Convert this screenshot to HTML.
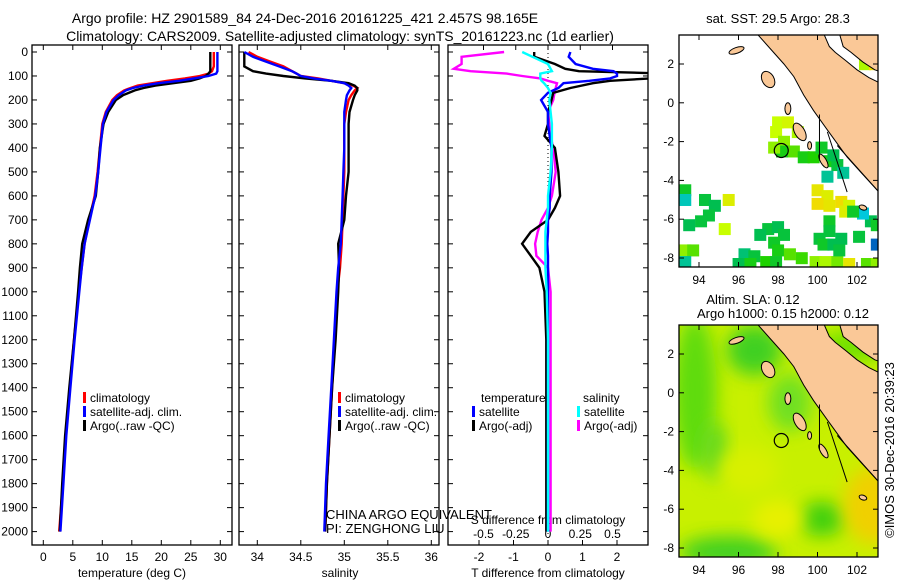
<!DOCTYPE html>
<html><head><meta charset="utf-8"><style>
body{margin:0;background:#fff;}
svg{display:block;font-family:"Liberation Sans",sans-serif;}
</style></head><body>
<svg id="c" width="900" height="580" viewBox="0 0 900 580">
<defs>
<filter id="bl" x="-50%" y="-50%" width="200%" height="200%"><feGaussianBlur stdDeviation="9"/></filter>
<clipPath id="cpT"><rect x="679" y="35" width="199" height="232"/></clipPath>
<clipPath id="cpB"><rect x="679" y="325" width="199" height="232"/></clipPath>
<clipPath id="cp3"><rect x="448" y="45" width="200" height="500"/></clipPath>
</defs>
<text x="305" y="23" font-size="14" text-anchor="middle">Argo profile: HZ 2901589_84 24-Dec-2016 20161225_421 2.457S 98.165E</text>
<text x="340" y="41" font-size="14" text-anchor="middle">Climatology: CARS2009. Satellite-adjusted climatology: synTS_20161223.nc (1d earlier)</text>
<g id="g"></g>
<text transform="translate(894,450) rotate(-90)" font-size="13" text-anchor="middle">©IMOS 30-Dec-2016 20:39:23</text>
</svg>
<script>
const depth=[0,20,40,60,80,90,100,110,120,130,140,150,160,180,200,250,300,400,500,600,700,800,900,1000,1200,1400,1600,1800,2000];
const tClim=[28.9,28.9,28.9,28.9,28.6,28.0,26.5,24,21,18.5,16,14.8,13.7,12.5,11.7,10.6,10.0,9.6,9.2,8.7,7.8,7.0,6.5,6.0,5.2,4.5,3.8,3.3,2.7];
const tSat=[29.5,29.5,29.5,29.5,29.5,29.3,28,25.5,23,19.5,17,15.2,14,12.8,11.9,10.7,10.1,9.7,9.3,8.8,7.9,7.0,6.5,6.1,5.3,4.6,3.9,3.4,2.9];
const tArgo=[28.3,28.3,28.3,28.3,28.3,28.0,27.5,26.5,25,22,19,17,15.5,13.5,12.3,11.0,10.2,9.6,9.3,8.9,7.6,6.6,6.2,5.9,5.2,4.4,3.7,3.2,2.8];
const sClim=[33.9,34.0,34.15,34.3,34.4,34.45,34.5,34.7,34.85,35.0,35.1,35.15,35.12,35.08,35.05,35.02,35.0,35.0,35.0,34.99,34.98,34.97,34.95,34.92,34.89,34.86,34.83,34.8,34.78];
const sSat=[33.85,33.95,34.1,34.25,34.4,34.45,34.5,34.65,34.85,35.0,35.05,35.08,35.06,35.03,35.02,35.0,35.0,35.0,34.99,34.98,34.97,34.96,34.93,34.91,34.88,34.85,34.82,34.79,34.77];
const sArgo=[33.85,33.85,33.85,33.85,33.95,34.1,34.3,34.55,34.85,35.05,35.12,35.15,35.15,35.12,35.1,35.06,35.05,35.05,35.05,35.02,35.0,34.93,34.94,34.93,34.9,34.86,34.83,34.8,34.78];
const dDepth=[0,20,50,70,80,90,100,110,120,130,150,170,200,250,300,350,400,500,600,650,700,750,800,850,900,1000,1200,1500,2000];
const dTArgo=[-0.4,-0.4,0.2,0.5,0.9,3.5,4,3,1.8,1.3,0.65,0.15,0.1,0,0,-0.1,0.2,0.3,0.35,0.2,0,-0.5,-0.75,-0.5,-0.25,-0.1,-0.05,-0.05,-0.05];
const dTSat=[0.65,0.6,0.8,1.3,1.9,2.0,2.0,1.8,1.2,0.45,0.3,0.0,-0.2,0,0,0.05,0.1,0.1,0.05,0.05,0,0,-0.02,0,0,0,0,0,0];
const dSArgo=[-0.34,-0.67,-0.67,-0.73,-0.6,-0.32,-0.2,-0.06,0.0,0.07,0.06,0.05,0.04,0.0,0.01,0.02,0.04,0.06,0.03,0,-0.05,-0.08,-0.1,-0.09,0,0.02,0.02,0.02,0.02];
const dSSat=[-0.2,-0.12,0,0.02,0.03,-0.06,-0.06,-0.06,-0.05,-0.03,0,0.02,0.01,0.02,0.03,0.03,0.03,0.02,0.0,0,-0.01,-0.02,-0.02,-0.02,-0.02,-0.01,0,0,0];
const depthTicks=[0,100,200,300,400,500,600,700,800,900,1000,1100,1200,1300,1400,1500,1600,1700,1800,1900,2000];
const tTicks=[0,5,10,15,20,25,30];
const sTicks=[34,34.5,35,35.5,36];
const dtTicks=[-2,-1,0,1,2];
const dsTicks=[-0.5,-0.25,0,0.25,0.5];
const dsTickLabels=["-0.5","-0.25","0","0.25","0.5"];
const latTicks=[2,0,-2,-4,-6,-8];
const lonTicks=[94,96,98,100,102];
const sstCells=[[98,-1],[98.5,-1],[99,-1.5],[97.9,-1.5],[98.3,-2],[98.8,-2.5],[98.2,-2.5],[97.8,-2.3],[99.3,-2.8],[99.8,-2.8],[100.2,-2.3],[100.6,-3],[101,-3.2],[100.8,-2.7],[101.3,-3.6],[100.5,-3.8],[93.3,-4.5],[93.3,-5],[94.3,-5],[94.8,-5.3],[94.5,-5.8],[94.1,-6.1],[93.5,-6.3],[95.5,-5],[95.3,-6.5],[97.5,-6.5],[98,-6.4],[98.3,-6.8],[97.1,-6.8],[97.8,-7.2],[98,-7.6],[96.3,-7.8],[96.8,-7.9],[98.6,-7.8],[99.2,-8],[99.9,-8.2],[100.4,-8.2],[101,-8.2],[96,-8.3],[96.6,-8.3],[97.4,-8.2],[97.9,-8.2],[93.3,-7.6],[93.7,-7.6],[93.3,-8.2],[100,-4.5],[100.5,-4.8],[100,-5.2],[100.6,-5.3],[101.2,-5.1],[101.6,-5.3],[101.4,-5.6],[100.6,-6.1],[100.6,-6.6],[100.1,-7],[100.3,-7.3],[100.8,-7.3],[101.2,-7],[101.1,-7.6],[102.1,-6.9],[102.7,-6.1],[103,-6.3],[102.3,-5.7],[101.8,-5.6],[103,-7.3],[102.5,-8.3],[103,-8.3],[101.6,-8.3],[101.7,-2],[102.4,2],[102.9,2]];
const sstVals=[0.8,0.85,0.75,0.8,0.7,0.6,0.45,0.7,0.45,0.5,0.4,0.45,0.35,0.3,0.2,0.2,0.4,0.15,0.35,0.3,0.35,0.35,0.3,0.9,0.8,0.35,0.3,0.35,0.3,0.4,0.45,0.25,0.35,0.6,0.55,0.7,0.75,0.65,0.3,0.45,0.5,0.4,0.7,0.6,0.2,0.95,0.9,1.0,0.95,1.0,0.85,0.9,0.4,0.35,0.35,0.4,0.3,0.3,0.35,0.35,0.3,0.4,0.1,0.4,0.05,0.6,0.7,0.95,0.5,0.75,1.0];
const g=document.getElementById('g');
const NS='http://www.w3.org/2000/svg';
function el(tag,a,parent){const e=document.createElementNS(NS,tag);for(const k in a)e.setAttribute(k,a[k]);(parent||g).appendChild(e);return e;}
function txt(x,y,s,a,parent){const e=el('text',Object.assign({x:x,y:y,'font-size':12},a||{}),parent);e.textContent=s;return e;}
const yD=d=>52+d*0.2398;
const xT=v=>43.3+v*5.9;
const xS=v=>257.3+(v-34)*87;
const xDT=v=>548+v*34.5;
const xDS=v=>548+v*129;
function panel(x0,name){
 const r=el('rect',{x:x0,y:45,width:200,height:500,fill:'none',stroke:'#000','stroke-width':1.3});
 
 
 depthTicks.forEach(d=>{el('line',{x1:x0,x2:x0+5,y1:yD(d),y2:yD(d),stroke:'#000'});el('line',{x1:x0+195,x2:x0+200,y1:yD(d),y2:yD(d),stroke:'#000'});});
}
panel(32,'temperature-panel');panel(239,'salinity-panel');panel(448,'difference-panel');
depthTicks.forEach(d=>{const t=txt(28,yD(d)+4,String(d),{'text-anchor':'end'});
 
 });
function xticks(arr,f,labels,ylab,top){arr.forEach((v,i)=>{const x=f(v);el('line',{x1:x,x2:x,y1:545,y2:540,stroke:'#000'});if(top)el('line',{x1:x,x2:x,y1:45,y2:50,stroke:'#000'});
 const t=txt(x,ylab,labels?labels[i]:String(v),{'text-anchor':'middle'});
 
 });}
xticks(tTicks,xT,null,561,true);xticks(sTicks,xS,null,561,true);xticks(dtTicks,xDT,null,561,false);
dsTicks.forEach((v,i)=>{const x=xDS(v);el('line',{x1:x,x2:x,y1:45,y2:50,stroke:'#000'});
 const t=txt(x,538,dsTickLabels[i],{'text-anchor':'middle'});
 
 });
[['temperature (deg C)',132,'x-axis-title-temperature'],['salinity',340,'x-axis-title-salinity'],['T difference from climatology',548,'x-axis-title-t-diff']].forEach(a=>{const t=txt(a[1],577,a[0],{'text-anchor':'middle'});
 
 });
const st=txt(548,524,'S difference from climatology',{'text-anchor':'middle'});


el('line',{x1:548,x2:548,y1:45,y2:545,stroke:'#000','stroke-dasharray':'1,3'});
function line(xs,ys,fx,fy,col,name,clip){let p='';xs.forEach((v,i)=>{p+=(i?'L':'M')+fx(v).toFixed(1)+','+fy(ys[i]).toFixed(1);});
 const e=el('path',{d:p,fill:'none',stroke:col,'stroke-width':2.4});if(clip)e.setAttribute('clip-path','url(#cp3)');
 
 }
line(tClim,depth,xT,yD,'#f00','temp-climatology-line');
line(tArgo,depth,xT,yD,'#000','temp-argo-line');
line(tSat,depth,xT,yD,'#00f','temp-satellite-line');
line(sClim,depth,xS,yD,'#f00','sal-climatology-line');
line(sArgo,depth,xS,yD,'#000','sal-argo-line');
line(sSat,depth,xS,yD,'#00f','sal-satellite-line');
line(dSArgo,dDepth,xDS,yD,'#f0f','s-diff-argo-line',1);
line(dTArgo,dDepth,xDT,yD,'#000','t-diff-argo-line',1);
line(dTSat,dDepth,xDT,yD,'#00f','t-diff-satellite-line',1);
line(dSSat,dDepth,xDS,yD,'#0ff','s-diff-satellite-line',1);
function leg(x,y,col,s,name){el('rect',{x:x,y:y-10,width:3,height:11,fill:col});const t=txt(x+7,y,s);
 
 }
[[83,'#f00','climatology'],[97,'#00f','satellite-adj. clim.'],[111,'#000','Argo(..raw -QC)']].forEach((a,i)=>{leg(338-255+0,0,'#fff','','');});
g.querySelectorAll('rect[x="83"]').forEach(e=>e.remove());
[['#f00','climatology',402],['#00f','satellite-adj. clim.',416],['#000','Argo(..raw -QC)',430]].forEach(a=>{leg(83,a[2],a[0],a[1],'temp-legend-entry');leg(338,a[2],a[0],a[1],'sal-legend-entry');});
txt(481,402,'temperature');txt(583,402,'salinity');
leg(472,416,'#00f','satellite','diff-legend-entry');leg(472,430,'#000','Argo(-adj)','diff-legend-entry');
leg(577,416,'#0ff','satellite','diff-legend-entry');leg(577,430,'#f0f','Argo(-adj)','diff-legend-entry');
txt(326,519,'CHINA ARGO EQUIVALENT',{'font-size':13});txt(326,533,'PI: ZENGHONG LIU',{'font-size':13});
// maps
const mx=lon=>699+(lon-94)*19.75;
function map(top,lat2y,clip,title1,title2,name){
 const my=lat=>lat2y+(2-lat)*19.4;
 const G=el('g',{'clip-path':'url(#'+clip+')'});
 
 
 return {G,my};
}
function decorate(top,my,G){
 const land=[[96.9,3.6],[97.6,2.8],[98.3,2.0],[98.8,1.35],[99.3,0.4],[99.8,-0.4],[100.5,-1.4],[101.0,-2.1],[101.5,-2.8],[102.3,-3.7],[103.2,-4.7],[103.2,1.0],[102.6,1.3],[102.0,1.7],[101.4,2.2],[100.9,2.6],[100.6,2.9],[100.3,3.6]];
 el('polygon',{points:land.map(p=>mx(p[0])+','+my(p[1])).join(' '),fill:'#fac897',stroke:'#000','stroke-width':1},G);
 const mal=[[101.1,3.6],[101.3,2.9],[101.7,2.6],[102.3,2.1],[102.9,1.7],[103.2,1.6],[103.2,3.6]];
 el('polygon',{points:mal.map(p=>mx(p[0])+','+my(p[1])).join(' '),fill:'#fac897',stroke:'#000','stroke-width':1},G);
 [[95.9,2.7,0.4,0.15,-20],[97.5,1.2,0.3,0.45,-30],[98.5,-0.3,0.15,0.3,0],[99.1,-1.5,0.25,0.5,-30],[99.6,-2.2,0.1,0.2,0],[100.3,-3.0,0.15,0.4,-30],[102.3,-5.4,0.2,0.12,20]].forEach(s=>{
  el('ellipse',{cx:mx(s[0]),cy:my(s[1]),rx:s[2]*19.75,ry:s[3]*19.4,fill:'#fac897',stroke:'#000','stroke-width':1,transform:'rotate('+s[4]+','+mx(s[0])+','+my(s[1])+')'},G);});
 el('path',{d:'M'+mx(100.1)+','+my(-0.6)+'L'+mx(100.1)+','+my(-2.9)+'M'+mx(100.5)+','+my(-1.5)+'L'+mx(101.5)+','+my(-4.6)+'M'+mx(101)+','+my(-2.2)+'L'+mx(103.2)+','+my(-4.7),fill:'none',stroke:'#000','stroke-width':1},G);
 el('circle',{cx:mx(98.165),cy:my(-2.457),r:7,fill:'none',stroke:'#000','stroke-width':1.2},G);
 el('rect',{x:679,y:top,width:199,height:232,fill:'none',stroke:'#000','stroke-width':1.3});
 latTicks.forEach(l=>{el('line',{x1:679,x2:684,y1:my(l),y2:my(l),stroke:'#000'});el('line',{x1:873,x2:878,y1:my(l),y2:my(l),stroke:'#000'});
  const t=txt(674,my(l)+4,String(l),{'text-anchor':'end'});
  
  });
 lonTicks.forEach(l=>{el('line',{x1:mx(l),x2:mx(l),y1:top,y2:top+5,stroke:'#000'});el('line',{x1:mx(l),x2:mx(l),y1:top+227,y2:top+232,stroke:'#000'});
  const t=txt(mx(l),top+249,String(l),{'text-anchor':'middle'});
  
  });
}
function col(v){const c=[[0,[0,0,160]],[0.1,[0,200,220]],[0.3,[0,190,80]],[0.5,[30,210,0]],[0.8,[200,255,0]],[1,[240,220,0]]];
 for(let i=1;i<c.length;i++)if(v<=c[i][0]){const a=c[i-1],b=c[i],t=(v-a[0])/(b[0]-a[0]);return 'rgb('+a[1].map((x,j)=>Math.round(x+(b[1][j]-x)*t)).join(',')+')';}return 'rgb(240,220,0)';}
const A=map(35,64,'cpT','','','sst-map');
el('rect',{x:679,y:35,width:199,height:232,fill:'#fff'},A.G);
sstCells.forEach((c,i)=>{const r=el('rect',{x:mx(c[0]-0.3),y:A.my(c[1]+0.3),width:12,height:12,fill:col(sstVals[i])},A.G);
 
 });
decorate(35,A.my,A.G);
const B=map(325,354,'cpB','','','sla-map');
el('rect',{x:679,y:325,width:199,height:232,fill:'#c8f000'},B.G);
const blobs=[[93.8,0,1.1,4,'#5edc10'],[94.8,-3,0.6,1.5,'#60d820'],[96.8,2.2,1.4,1.3,'#40d020'],[98.6,-0.5,1.1,1.5,'#70e020'],[100.2,-6.5,1.2,0.9,'#40d010'],[95.5,-8.2,2.5,0.8,'#40d020'],[102.8,-5.8,1.5,2,'#f0d000'],[98,-6.5,1.3,1,'#e8f000'],[101.8,2.4,1.8,0.8,'#70e000'],[96.5,-4,1.5,1.2,'#d8f000']];
blobs.forEach(b=>el('ellipse',{cx:mx(b[0]),cy:B.my(b[1]),rx:b[2]*19.75,ry:b[3]*19.4,fill:b[4],filter:'url(#bl)'},B.G));
decorate(325,B.my,B.G);
txt(778,23,'sat. SST: 29.5 Argo: 28.3',{'text-anchor':'middle','font-size':13});
txt(753,304,'Altim. SLA: 0.12',{'text-anchor':'middle','font-size':13});
txt(783,318,'Argo h1000: 0.15 h2000: 0.12',{'text-anchor':'middle','font-size':13});
</script>
</body></html>
